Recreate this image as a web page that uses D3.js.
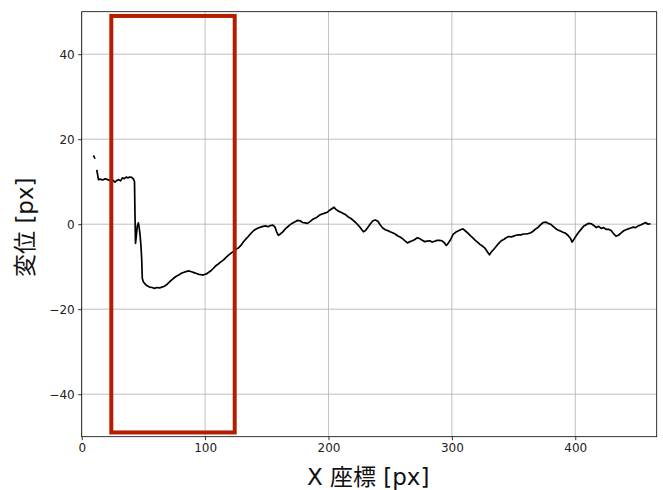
<!DOCTYPE html>
<html><head><meta charset="utf-8">
<script src="https://cdn.jsdelivr.net/npm/d3@7"></script>
<style>
html,body{margin:0;padding:0;background:#fff;}
svg text{font-family:"DejaVu Sans","Noto Sans CJK JP",sans-serif;}
</style></head>
<body>
<svg id="chart" width="663" height="490"></svg>
<script>
// Displacement samples: x [px] and displacement [px]; null marks a gap in the trace
const xValues = [9.5,10.8,null,
12.2,13.0,13.6,15,17,19,21,23,25,27,28.5,30,31.5,33,34.5,36,37.5,39,40.5,42,42.8,43.2,43.6,44.2,45,45.9,46.6,47.3,48.0,48.6,49.1,50,51.5,53,55,57,59,61,63,65,67,69,71,73,75,77,79,81,83,85,87,89,91,93,95,97,99,101,103,105,107,109,111,113,115,117,119,121,123,125,127,129,131,133,135,137,139,141,143,145,147,149,151,153,155,156.7,158,159.4,161,163,165,167,169,171,173,175,177,179,181,183,185,187,189,191,193,195,197,199,201,203,204.5,206,208,210,212,214,216,218,220,222,224,226,228.3,230,232,234,236,238,240,242,244,246,248,250,252,254,256,258,260,262,264,266,268,270,272,274,276,278,280,282,284,286,288,290,292,294,295.5,297,299,301,303,305,307,309,311,313,315,317,319,321,323,325,327,329,330.5,332,334,336,338,340,342,344,346,348,350,352,354,356,358,360,362,364,366,368,370,372,374,376,378,380,382,384,386,388,390,392,394,396,397.5,399,401,403,405,407,409,411,413,415,417,419,421,423,425,427,429,431,433,435,437,439,441,443,445,447,449,451,453,455,457,459,461];
const dispValues = [16.2,15.4,null,
12.8,11.5,10.5,10.6,10.4,10.7,10.5,10.3,10.4,9.9,10.3,10.5,10.2,10.9,10.7,11.1,10.9,11.1,11.0,10.6,10.0,2,-4.5,-3,-0.5,0.3,-0.8,-2.5,-5,-8,-12.7,-13.6,-14.1,-14.5,-14.8,-14.9,-15.1,-14.9,-15.0,-14.8,-14.6,-14.2,-13.6,-13.1,-12.6,-12.2,-11.9,-11.5,-11.3,-11.1,-11.0,-11.2,-11.4,-11.6,-11.8,-11.9,-11.9,-11.7,-11.3,-10.9,-10.3,-9.7,-9.3,-8.8,-8.4,-7.8,-7.3,-6.8,-6.4,-5.9,-5.6,-5.0,-4.2,-3.5,-2.9,-2.2,-1.6,-1.2,-0.9,-0.7,-0.5,-0.4,-0.6,-0.3,-0.2,-0.7,-1.8,-2.6,-2.3,-1.8,-1.1,-0.6,-0.1,0.3,0.6,0.9,0.8,0.4,0.3,0.2,0.6,1.1,1.4,1.7,2.2,2.4,2.6,2.8,3.3,3.7,4.0,3.5,3.1,2.8,2.5,2.2,1.7,1.4,0.9,0.4,-0.2,-0.9,-1.8,-1.5,-0.7,0.1,0.8,1.0,0.7,-0.2,-0.9,-1.3,-1.5,-1.8,-2.0,-2.3,-2.7,-3.0,-3.4,-3.9,-4.4,-4.1,-3.9,-3.6,-3.2,-3.4,-3.8,-4.1,-4.0,-3.9,-4.2,-4.0,-3.8,-3.8,-3.9,-4.4,-5.0,-4.5,-3.6,-2.4,-1.9,-1.6,-1.3,-1.1,-1.6,-2.1,-2.7,-3.2,-3.8,-4.3,-4.8,-5.2,-5.7,-6.6,-7.2,-6.5,-5.9,-5.2,-4.5,-3.9,-3.6,-3.2,-2.9,-3.0,-2.8,-2.6,-2.5,-2.5,-2.3,-2.3,-2.2,-2.0,-1.6,-1.1,-0.7,-0.1,0.4,0.5,0.2,0.0,-0.5,-1.0,-1.4,-1.6,-1.9,-2.1,-2.6,-3.3,-4.2,-3.5,-2.6,-1.8,-1.1,-0.4,-0.1,0.2,0.1,-0.3,-0.8,-0.5,-1.0,-0.8,-1.2,-1.2,-1.5,-2.2,-2.8,-2.6,-2.1,-1.6,-1.3,-1.1,-0.9,-0.7,-0.8,-0.4,-0.2,0.1,0.4,0.0,0.1];
const xTicks = [0,100,200,300,400];
const yTicks = [-40,-20,0,20,40];
const xDomain = [0,466];
const yDomain = [-50,50];
const roiX = [24,124];
const roiY = [-49,49];
const xLabel = "X 座標 [px]";
const yLabel = "変位 [px]";

const svg = d3.select("#chart");
const L = 81.7, T = 11.7, R = 656.7, B = 436.7;
const x = d3.scaleLinear().domain(xDomain).range([L, R]);
const y = d3.scaleLinear().domain(yDomain).range([B, T]);
const fmt = d => d < 0 ? "\u2212" + Math.abs(d) : String(d);
const FONT = '"DejaVu Sans","Noto Sans CJK JP",sans-serif';

// grid
const g = svg.append("g");
g.selectAll(".gx").data(xTicks).join("line")
  .attr("x1", d => x(d)).attr("x2", d => x(d)).attr("y1", T).attr("y2", B)
  .attr("stroke", "#b0b0b0").attr("stroke-width", 0.8);
g.selectAll(".gy").data(yTicks).join("line")
  .attr("y1", d => y(d)).attr("y2", d => y(d)).attr("x1", L).attr("x2", R)
  .attr("stroke", "#b0b0b0").attr("stroke-width", 0.8);

// line
const pts = xValues.map((v, i) => [v, dispValues[i]]);
const line = d3.line().defined(d => d[0] !== null && d[1] !== null)
  .x(d => x(d[0])).y(d => y(d[1]));
svg.append("path").datum(pts).attr("d", line)
  .attr("fill", "none").attr("stroke", "#000").attr("stroke-width", 1.7)
  .attr("stroke-linejoin", "round");

// ROI rectangle
svg.append("rect")
  .attr("x", x(roiX[0])).attr("y", y(roiY[1]))
  .attr("width", x(roiX[1]) - x(roiX[0])).attr("height", y(roiY[0]) - y(roiY[1]))
  .attr("fill", "none").attr("stroke", "#b51d00").attr("stroke-width", 4);

// axes
const xAxis = d3.axisBottom(x).tickValues(xTicks).tickFormat(fmt).tickSize(3.5).tickPadding(3.5);
const yAxis = d3.axisLeft(y).tickValues(yTicks).tickFormat(fmt).tickSize(3.5).tickPadding(3.5);
const ax = svg.append("g").attr("transform", `translate(0,${B})`).call(xAxis);
const ay = svg.append("g").attr("transform", `translate(${L},0)`).call(yAxis);
[ax, ay].forEach(a => {
  a.select(".domain").remove();
  a.selectAll(".tick line").attr("stroke", "#000").attr("stroke-width", 0.8);
  a.selectAll(".tick text").attr("fill", "#222").attr("font-size", 12)
    .style("font-family", FONT);
});

// spines
svg.append("rect").attr("x", L).attr("y", T).attr("width", R - L).attr("height", B - T)
  .attr("fill", "none").attr("stroke", "#000").attr("stroke-width", 0.8);

// labels
svg.append("text").attr("x", (L + R) / 2 - 1).attr("y", 485)
  .attr("text-anchor", "middle").attr("font-size", 23).attr("fill", "#111")
  .style("font-family", FONT).text(xLabel);
svg.append("text").attr("transform", `translate(33,${(T + B) / 2 + 3}) rotate(-90)`)
  .attr("text-anchor", "middle").attr("font-size", 23).attr("fill", "#111")
  .style("font-family", FONT).text(yLabel);
</script>
</body></html>
